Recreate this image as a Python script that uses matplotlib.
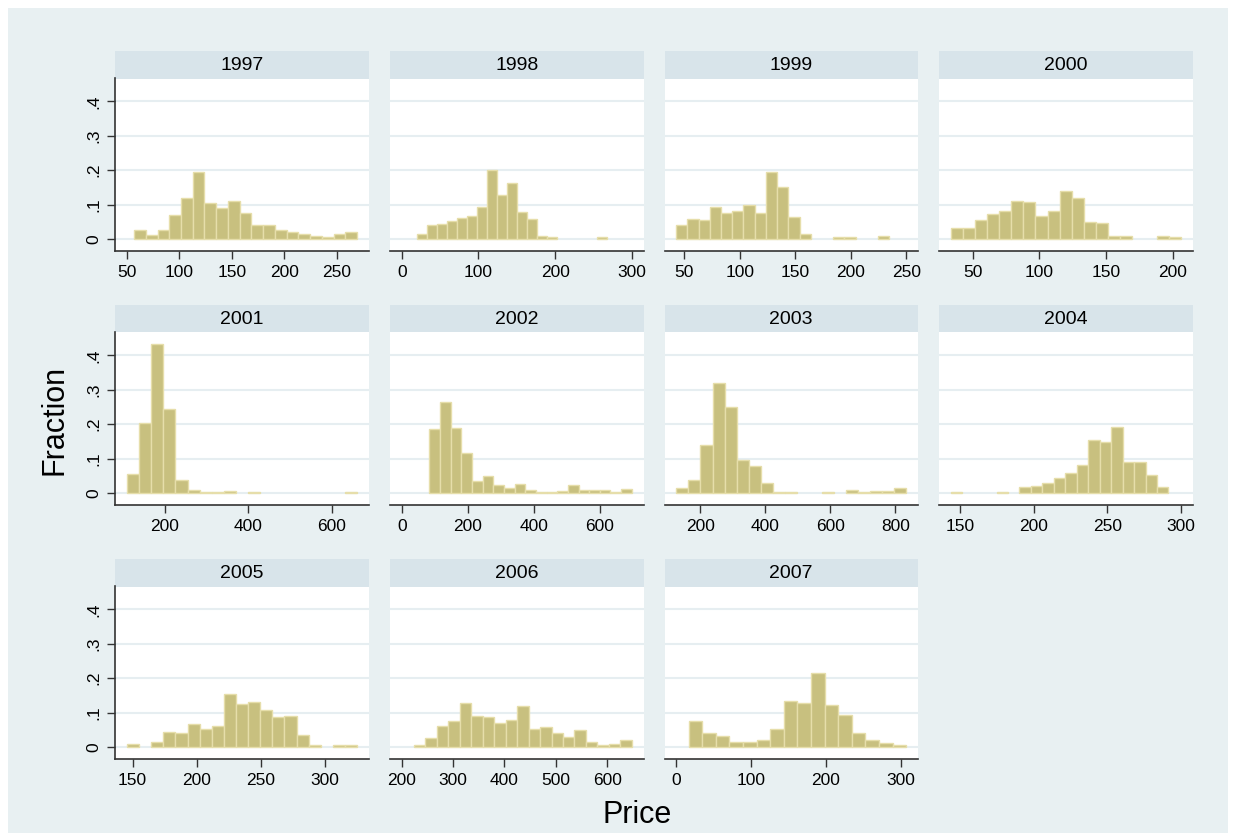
import numpy as np
import matplotlib.pyplot as plt

# Histogram data: first bin edge, bin width, fractions
years = [1997, 1998, 1999, 2000, 2001, 2002, 2003, 2004, 2005, 2006, 2007]

bin_start = [56.7, 20.4, 42.8, 33.3, 109.2, 83.8, 125.3, 143.4, 145.6, 224.0, 16.5]
bin_width = [11.2, 13.0, 10.1, 9.1, 29.0, 32.3, 37.3, 7.8, 9.45, 22.3, 18.2]

frac_1997 = [0.026, 0.012, 0.028, 0.070, 0.119, 0.194, 0.106, 0.091, 0.110, 0.075,
             0.040, 0.040, 0.028, 0.020, 0.015, 0.008, 0.006, 0.015, 0.020]
frac_1998 = [0.016, 0.040, 0.043, 0.052, 0.061, 0.068, 0.094, 0.201, 0.128, 0.164,
             0.078, 0.058, 0.008, 0.006, 0, 0, 0, 0, 0.005]
frac_1999 = [0.040, 0.059, 0.057, 0.094, 0.076, 0.081, 0.099, 0.076, 0.194, 0.152,
             0.063, 0.015, 0, 0, 0.006, 0.006, 0, 0, 0.008]
frac_2000 = [0.033, 0.033, 0.057, 0.072, 0.082, 0.111, 0.108, 0.068, 0.081, 0.139,
             0.119, 0.051, 0.046, 0.008, 0.008, 0, 0, 0.008, 0.006]
frac_2001 = [0.056, 0.204, 0.434, 0.243, 0.038, 0.008, 0.004, 0.004, 0.006, 0,
             0.004, 0, 0, 0, 0, 0, 0, 0, 0.004]
frac_2002 = [0.187, 0.263, 0.189, 0.117, 0.036, 0.051, 0.025, 0.016, 0.028, 0.008,
             0.003, 0.003, 0.006, 0.023, 0.010, 0.010, 0.010, 0.004, 0.011]
frac_2003 = [0.014, 0.037, 0.140, 0.320, 0.249, 0.096, 0.079, 0.029, 0.004, 0.004,
             0, 0, 0.004, 0, 0.008, 0.004, 0.006, 0.006, 0.015]
frac_2004 = [0.004, 0, 0, 0, 0.004, 0, 0.017, 0.020, 0.030, 0.045,
             0.058, 0.082, 0.155, 0.149, 0.191, 0.090, 0.090, 0.052, 0.019]
frac_2005 = [0.008, 0, 0.014, 0.044, 0.040, 0.066, 0.054, 0.061, 0.154, 0.124,
             0.132, 0.107, 0.087, 0.089, 0.035, 0.006, 0, 0.006, 0.006]
frac_2006 = [0.007, 0.027, 0.061, 0.076, 0.128, 0.091, 0.088, 0.070, 0.080, 0.119,
             0.054, 0.059, 0.040, 0.030, 0.050, 0.014, 0.006, 0.008, 0.020]
frac_2007 = [0.076, 0.042, 0.031, 0.015, 0.015, 0.020, 0.052, 0.134, 0.128, 0.216,
             0.123, 0.094, 0.040, 0.020, 0.011, 0.006]

fractions = [frac_1997, frac_1998, frac_1999, frac_2000, frac_2001, frac_2002,
             frac_2003, frac_2004, frac_2005, frac_2006, frac_2007]

x_ticks = [
    [50, 100, 150, 200, 250],
    [0, 100, 200, 300],
    [50, 100, 150, 200, 250],
    [50, 100, 150, 200],
    [200, 400, 600],
    [0, 200, 400, 600],
    [200, 400, 600, 800],
    [150, 200, 250, 300],
    [150, 200, 250, 300],
    [200, 300, 400, 500, 600],
    [0, 100, 200, 300],
]
y_ticks = [0, 0.1, 0.2, 0.3, 0.4]
y_labels = ['0', '.1', '.2', '.3', '.4']

plt.rcParams['font.family'] = ['Liberation Sans', 'DejaVu Sans']

W, H = 1235, 833
bg = '#E8F0F2'
strip_col = '#D8E4EA'
bar_col = '#C8C07F'
bar_edge = '#E6DEAA'
grid_col = '#E6EEF1'
axis_col = '#333333'

fig = plt.figure(figsize=(W / 100, H / 100), dpi=100)
fig.patch.set_facecolor('white')
fig.patches.append(plt.Rectangle((8 / W, 0), (1228 - 8) / W, (H - 8) / H,
                                 transform=fig.transFigure, facecolor=bg,
                                 edgecolor='none', zorder=-10))

col_left = [115.3, 390.0, 664.5, 939.0]
panel_w = 253.5
strip_top = [51.0, 305.0, 559.0]
strip_h = 27.5
plot_h = 172.4


def px_box(x, y_top, w, h):
    return [x / W, 1 - (y_top + h) / H, w / W, h / H]


for i, year in enumerate(years):
    row, col = divmod(i, 4)
    x0 = col_left[col]
    st = strip_top[row]

    # strip with year
    sax = fig.add_axes(px_box(x0, st, panel_w, strip_h))
    sax.set_facecolor(strip_col)
    sax.set_xticks([])
    sax.set_yticks([])
    for s in sax.spines.values():
        s.set_visible(False)
    sax.text(0.5, 0.48, str(year), ha='center', va='center', fontsize=14,
             transform=sax.transAxes)

    ax = fig.add_axes(px_box(x0, st + strip_h, panel_w, plot_h))
    ax.set_facecolor('white')
    h = np.array(fractions[i])
    edges = bin_start[i] + bin_width[i] * np.arange(len(h))
    keep = h > 0
    ax.bar(edges[keep], h[keep], width=bin_width[i], align='edge', color=bar_col,
           edgecolor=bar_edge, linewidth=1.0, zorder=3)

    ticks = x_ticks[i]
    lo = min(ticks[0], bin_start[i])
    hi = max(ticks[-1], bin_start[i] + bin_width[i] * len(h))
    pad = (hi - lo) * 11.7 / (panel_w - 23.4)
    ax.set_xlim(lo - pad, hi + pad)
    ax.set_ylim(-0.034, 0.466)

    for yv in y_ticks:
        ax.axhline(yv, color=grid_col, linewidth=1.5, zorder=1)

    ax.set_xticks(ticks)
    ax.set_xticklabels([str(t) for t in ticks], fontsize=12.5)
    ax.tick_params(axis='x', direction='out', length=6, width=1,
                   color=axis_col, pad=4)
    for side in ['top', 'right']:
        ax.spines[side].set_visible(False)
    ax.spines['bottom'].set_color(axis_col)
    ax.spines['bottom'].set_linewidth(1.2)

    if col == 0:
        ax.set_yticks(y_ticks)
        ax.set_yticklabels(y_labels, fontsize=12.5, rotation=90, va='center')
        ax.tick_params(axis='y', direction='out', length=6, width=1,
                       color=axis_col, pad=4)
        ax.spines['left'].set_color(axis_col)
        ax.spines['left'].set_linewidth(1.2)
    else:
        ax.set_yticks([])
        ax.spines['left'].set_visible(False)

fig.text(55 / W, 1 - 420 / H, 'Fraction', rotation=90, ha='center',
         va='center', fontsize=22)
fig.text(637 / W, 1 - 815 / H, 'Price', ha='center', va='center', fontsize=22)

fig.savefig('out.png', dpi=100)
